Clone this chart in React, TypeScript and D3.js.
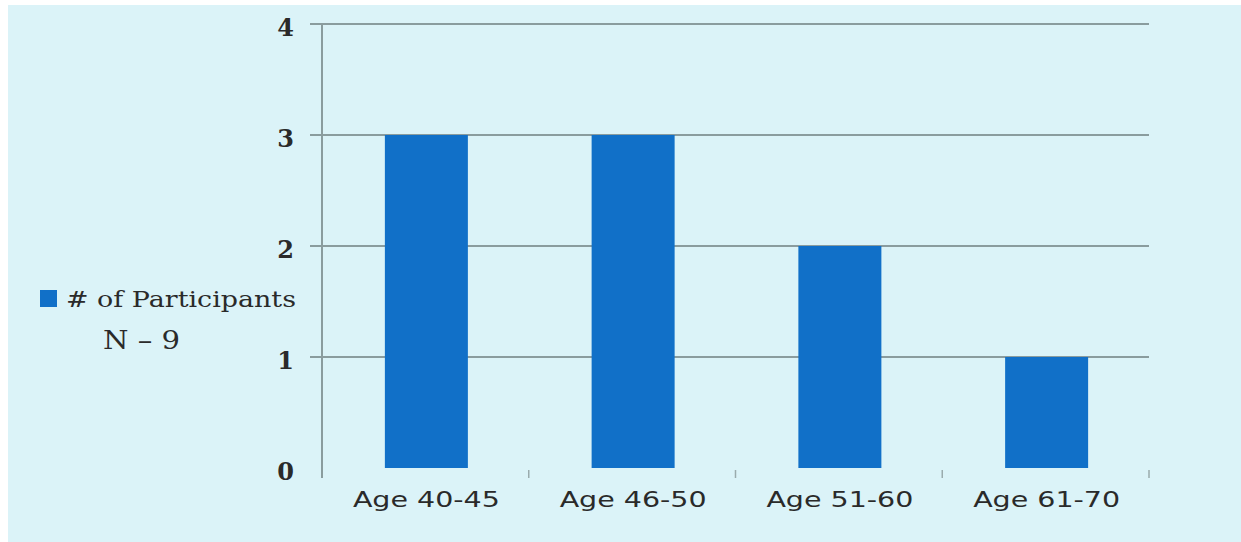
import React from "react";
import * as d3 from "d3";

const categories = ["Age 40-45", "Age 46-50", "Age 51-60", "Age 61-70"];
const participants = [3, 3, 2, 1];
const yTicks = [0, 1, 2, 3, 4];
const legendLabel = "# of Participants";
const noteLabel = "N – 9";

const W = 1241;
const H = 542;
const M = { left: 322, right: 1149, top: 24, bottom: 468 };

export default function App() {
  const x = d3.scaleBand<string>().domain(categories).range([M.left, M.right]).paddingInner(0).paddingOuter(0);
  const y = d3.scaleLinear().domain([0, 4]).range([M.bottom, M.top]);
  const bandStep = x.step();
  const barW = 83;
  const bounds = d3.range(categories.length + 1).map((i) => M.left + i * bandStep);
  return (
    <svg width={W} height={H} style={{ position: "absolute", left: 0, top: 0 }}>
      <rect x={0} y={0} width={W} height={H} fill="#ffffff" />
      <rect x={8} y={5} width={W - 8} height={H - 5} fill="#dbf3f8" />
      {yTicks.map((t) => (
        <g key={t}>
          {t > 0 && (
            <line x1={M.left - 12} x2={M.right} y1={y(t)} y2={y(t)} stroke="#8a9c9e" strokeWidth={2} />
          )}
          <text
            x={294}
            y={y(t)}
            dy="0.5em"
            textAnchor="end"
            fontFamily="DejaVu Serif"
            fontSize={24}
            fontWeight="bold"
            fill="#2a2a2a"
          >
            {t}
          </text>
        </g>
      ))}
      <line x1={M.left} x2={M.left} y1={M.top} y2={M.bottom + 10} stroke="#8a9c9e" strokeWidth={2} />
      {bounds.slice(1).map((b, i) => (
        <line key={i} x1={b} x2={b} y1={M.bottom + 2} y2={M.bottom + 10} stroke="#9aabad" strokeWidth={1.5} />
      ))}
      {categories.map((c, i) => {
        const cx = (x(c) as number) + bandStep / 2;
        return (
          <g key={c}>
            <rect x={cx - barW / 2 + 1} y={y(participants[i])} width={barW} height={y(0) - y(participants[i])} fill="#1170c8" />
            <text
              x={cx + 1}
              y={507}
              textAnchor="middle"
              fontFamily="DejaVu Sans"
              fontSize={22}
              textLength={147}
              lengthAdjust="spacingAndGlyphs"
              fill="#2a2a2a"
            >
              {c}
            </text>
          </g>
        );
      })}
      <rect x={40} y={290} width={17} height={17} fill="#1170c8" />
      <text x={66} y={307} fontFamily="DejaVu Serif" fontSize={22} textLength={230} lengthAdjust="spacingAndGlyphs" fill="#2a2a2a">
        {legendLabel}
      </text>
      <text x={103} y={349} fontFamily="DejaVu Serif" fontSize={26} textLength={77} lengthAdjust="spacingAndGlyphs" fill="#2a2a2a">
        {noteLabel}
      </text>
    </svg>
  );
}
